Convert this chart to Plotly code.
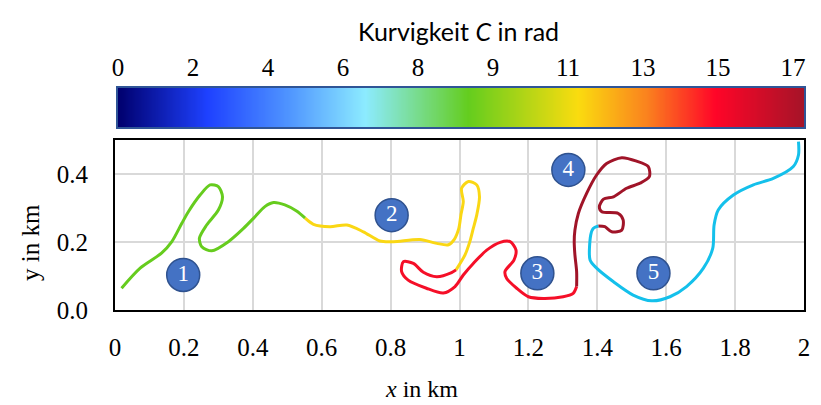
import numpy as np
import plotly.graph_objects as go

# ---- data ----
seg1_x = [0.019, 0.073, 0.135, 0.165, 0.194, 0.213, 0.247, 0.276, 0.300, 0.312, 0.300, 0.266, 0.245, 0.252,
          0.281, 0.329, 0.373, 0.406, 0.435, 0.460, 0.493, 0.527, 0.552]
seg1_y = [0.064, 0.123, 0.167, 0.201, 0.255, 0.289, 0.338, 0.368, 0.363, 0.333, 0.294, 0.250, 0.211, 0.186,
          0.174, 0.201, 0.240, 0.274, 0.304, 0.316, 0.309, 0.291, 0.270]
seg2_x = [0.552, 0.576, 0.624, 0.673, 0.721, 0.769, 0.808, 0.885, 0.934, 0.968, 0.985, 0.998, 1.004, 1.011,
          1.006, 1.026, 1.050, 1.058, 1.050, 1.040, 1.030, 1.016, 0.990]
seg2_y = [0.270, 0.252, 0.245, 0.250, 0.230, 0.203, 0.201, 0.207, 0.196, 0.192, 0.208, 0.240, 0.279, 0.319,
          0.358, 0.378, 0.368, 0.333, 0.279, 0.240, 0.201, 0.162, 0.118]
seg3_x = [0.990, 0.977, 0.934, 0.895, 0.866, 0.837, 0.832, 0.851, 0.904, 0.953, 0.987, 1.011, 1.040, 1.079,
          1.118, 1.147, 1.164, 1.158, 1.132, 1.137, 1.166, 1.200, 1.243, 1.301, 1.330, 1.340]
seg3_y = [0.118, 0.110, 0.098, 0.111, 0.137, 0.142, 0.113, 0.088, 0.064, 0.050, 0.069, 0.103, 0.137, 0.176,
          0.199, 0.201, 0.176, 0.147, 0.113, 0.093, 0.064, 0.039, 0.034, 0.039, 0.049, 0.069]
seg4_x = [1.340, 1.340, 1.335, 1.333, 1.335, 1.345, 1.369, 1.398, 1.427, 1.471, 1.514, 1.548, 1.551, 1.524,
          1.485, 1.447, 1.418, 1.406, 1.413, 1.461, 1.475, 1.471, 1.442, 1.422, 1.403]
seg4_y = [0.069, 0.113, 0.162, 0.201, 0.235, 0.284, 0.343, 0.397, 0.431, 0.448, 0.438, 0.422, 0.392, 0.373,
          0.358, 0.333, 0.326, 0.304, 0.289, 0.284, 0.265, 0.235, 0.230, 0.245, 0.247]
seg5_x = [1.403, 1.388, 1.381, 1.379, 1.398, 1.447, 1.504, 1.558, 1.611, 1.659, 1.708, 1.735, 1.739, 1.751,
          1.795, 1.853, 1.911, 1.969, 1.984, 1.984]
seg5_y = [0.247, 0.240, 0.221, 0.147, 0.123, 0.083, 0.044, 0.027, 0.039, 0.069, 0.123, 0.181, 0.250, 0.294,
          0.338, 0.368, 0.387, 0.422, 0.456, 0.495]

seg_colors = ["rgb(102,204,30)", "rgb(250,215,20)", "rgb(245,15,40)", "rgb(160,20,40)", "rgb(20,192,235)"]

label_x = [0.198, 0.803, 1.226, 1.316, 1.563]
label_y = [0.103, 0.279, 0.108, 0.412, 0.108]
label_text = ["1", "2", "3", "4", "5"]

cbar_ticktext = ["0", "2", "4", "6", "8", "9", "11", "13", "15", "17"]
x_tickvals = [0, 0.2, 0.4, 0.6, 0.8, 1.0, 1.2, 1.4, 1.6, 1.8, 2.0]
x_ticktext = ["0", "0.2", "0.4", "0.6", "0.8", "1", "1.2", "1.4", "1.6", "1.8", "2"]
y_tickvals = [0.0, 0.2, 0.4]

colorscale = [
    [0.0, "rgb(0,0,110)"],
    [0.13, "rgb(30,65,255)"],
    [0.25, "rgb(80,150,255)"],
    [0.36, "rgb(140,235,255)"],
    [0.51, "rgb(100,205,30)"],
    [0.67, "rgb(250,220,15)"],
    [0.77, "rgb(250,130,30)"],
    [0.87, "rgb(255,5,40)"],
    [1.0, "rgb(165,20,40)"],
]

SERIF = "Liberation Serif, Times New Roman, serif"
W, H = 821, 405
ML, MR, MT, MB = 115, 17, 20, 95
PW, PH = W - ML - MR, H - MT - MB


def px_x(p):
    return (p - ML) / PW


def px_y(p):
    return (H - MB - p) / PH


fig = go.Figure()
segs = [(seg1_x, seg1_y), (seg2_x, seg2_y), (seg3_x, seg3_y), (seg4_x, seg4_y), (seg5_x, seg5_y)]
for (sx, sy), c in zip(segs, seg_colors):
    fig.add_trace(go.Scatter(x=sx, y=sy, mode="lines", line=dict(color=c, width=3, shape="spline", smoothing=0.8),
                             showlegend=False, hoverinfo="skip"))

fig.add_trace(go.Scatter(
    x=label_x, y=label_y, mode="markers+text", text=label_text, textposition="middle center",
    marker=dict(size=33, color="#4472C4", line=dict(color="#2F528F", width=1.5)),
    textfont=dict(family=SERIF, size=23, color="white"), showlegend=False, hoverinfo="skip"))

# colour bar drawn as a gradient strip on its own axes; ticks evenly spaced with custom labels
n = len(cbar_ticktext)
bar_end = (n - 1) * (805 - 118) / (794.5 - 118.5)
grad = np.linspace(0, bar_end, 300)
fig.add_trace(go.Heatmap(x=grad, y=[0], z=[grad], zmin=0, zmax=bar_end, colorscale=colorscale,
                         showscale=False, zsmooth="best", hoverinfo="skip", xaxis="x2", yaxis="y2"))

fig.update_layout(
    width=W, height=H, margin=dict(l=ML, r=MR, t=MT, b=MB),
    paper_bgcolor="white", plot_bgcolor="white",
    xaxis=dict(range=[0, 2], tickvals=x_tickvals, ticktext=x_ticktext, showgrid=True, gridcolor="#d9d9d9",
               gridwidth=1.5, zeroline=False, showline=True, linecolor="black", linewidth=2, mirror=True,
               ticks="", ticklabelstandoff=14, automargin=False, anchor="y",
               tickfont=dict(family=SERIF, size=25, color="black")),
    yaxis=dict(range=[0, 0.5], domain=[0, px_y(140)], tickvals=y_tickvals, tickformat=".1f", showgrid=True,
               gridcolor="#d9d9d9", gridwidth=1.5, zeroline=False, showline=True, linecolor="black", linewidth=2,
               mirror=True, ticks="", ticklabelstandoff=20, automargin=False, anchor="x",
               tickfont=dict(family=SERIF, size=25, color="black")),
    xaxis2=dict(domain=[px_x(118), 1.0], range=[0, bar_end], anchor="y2", side="top",
                tickvals=list(range(n)), ticktext=cbar_ticktext, ticks="", ticklabelstandoff=0,
                showgrid=False, zeroline=False, showline=True, linecolor="#2F5597", linewidth=2, mirror=True,
                automargin=False, tickfont=dict(family=SERIF, size=25, color="black")),
    yaxis2=dict(domain=[px_y(127), px_y(88)], range=[-0.5, 0.5], anchor="x2", showticklabels=False,
                showgrid=False, zeroline=False, showline=True, linecolor="#2F5597", linewidth=2, mirror=True,
                ticks="", automargin=False),
    annotations=[
        dict(text="Kurvigkeit <i>C</i> in rad", x=px_x(458), y=px_y(31), xref="paper", yref="paper",
             showarrow=False, xanchor="center", yanchor="middle",
             font=dict(family="Lato, Open Sans, sans-serif", size=25, color="black")),
        dict(text="<i>x</i> in km", x=px_x(421), y=px_y(389), xref="paper", yref="paper", showarrow=False,
             xanchor="center", yanchor="middle", font=dict(family=SERIF, size=24, color="black")),
        dict(text="y in km", x=px_x(30), y=px_y(243), xref="paper", yref="paper", showarrow=False,
             textangle=-90, xanchor="center", yanchor="middle", font=dict(family=SERIF, size=25, color="black")),
    ],
)

fig.write_html("out.html")
